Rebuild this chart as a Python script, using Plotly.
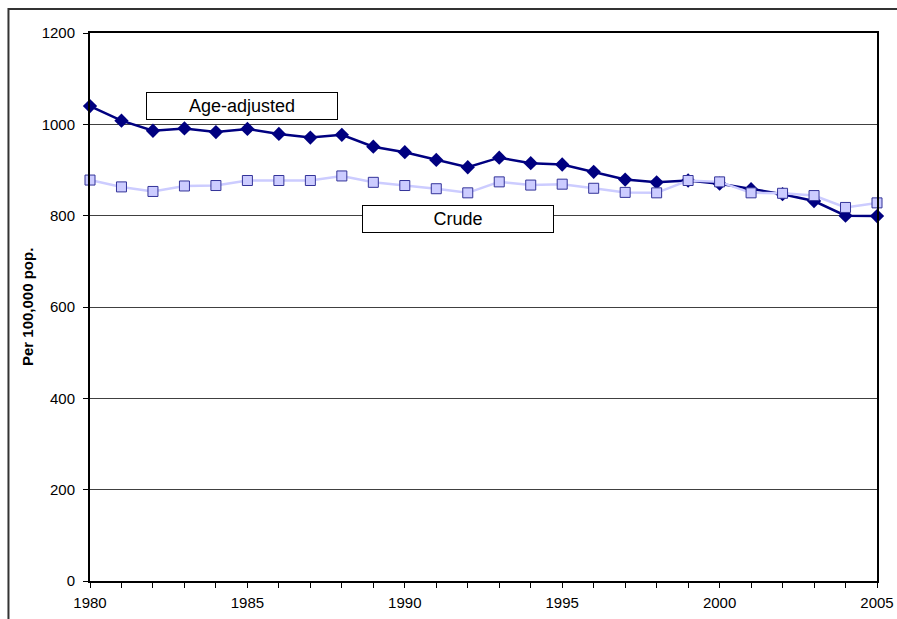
import plotly.graph_objects as go

years = list(range(1980, 2006))
age_adjusted = [1040, 1008, 986, 991, 983, 990, 979, 971, 977, 951, 939, 922, 906,
                927, 915, 912, 896, 879, 873, 877, 870, 858, 847, 832, 800, 799]
crude = [878, 863, 853, 865, 866, 877, 877, 877, 887, 873, 866, 859, 850,
         874, 867, 869, 860, 851, 850, 877, 874, 850, 849, 844, 818, 828]
x_ticks = [1980, 1985, 1990, 1995, 2000, 2005]
y_ticks = [0, 200, 400, 600, 800, 1000, 1200]

font_name = "Liberation Sans, Arial, sans-serif"

fig = go.Figure()
fig.add_trace(go.Scatter(x=years, y=age_adjusted, mode='lines+markers', name='Age-adjusted',
                         line=dict(color='#000080', width=2.5),
                         marker=dict(symbol='diamond', size=11, color='#000080'),
                         cliponaxis=False))
fig.add_trace(go.Scatter(x=years, y=crude, mode='lines+markers', name='Crude',
                         line=dict(color='#CCCCFF', width=2.5),
                         marker=dict(symbol='square', size=10, color='#CCCCFF',
                                     line=dict(color='#333399', width=1)),
                         cliponaxis=False))

# outer chart frame (runs past the bottom/right of the picture)
fig.add_shape(type='rect', xref='paper', yref='paper', x0=-0.1036, x1=1.2, y0=-0.3, y1=1.0438,
              line=dict(color='#333333', width=2), layer='below')

# series labels
for txt, px, py in [('Age-adjusted', 0.1931, 0.867), ('Crude', 0.4679, 0.6597)]:
    fig.add_annotation(text=txt, xref='paper', yref='paper', x=px, y=py, showarrow=False,
                       xanchor='center', yanchor='middle', width=190, height=26,
                       bgcolor='white', bordercolor='black', borderwidth=1, borderpad=0,
                       font=dict(family=font_name, size=18, color='black'))

fig.add_annotation(text='<b>Per 100,000 pop.</b>', xref='paper', yref='paper', x=-0.080, y=0.5,
                   textangle=-90, showarrow=False, xanchor='center', yanchor='middle',
                   font=dict(family=font_name, size=15, color='black'))

fig.update_layout(
    width=897, height=619,
    margin=dict(l=90, r=20, t=33, b=38, autoexpand=False),
    paper_bgcolor='white', plot_bgcolor='white',
    showlegend=False,
    font=dict(family=font_name, size=15, color='black'),
    xaxis=dict(range=[1980, 2005], tickvals=x_ticks, showgrid=False, zeroline=False,
               showline=True, linecolor='black', linewidth=1.5, mirror=True, automargin=False,
               ticks='outside', ticklen=5, tickcolor='black',
               minor=dict(dtick=1, tick0=1980, ticks='outside', ticklen=5, tickcolor='black'),
               ticklabelstandoff=2),
    yaxis=dict(range=[0, 1200], tickvals=y_ticks, showgrid=True, gridcolor='#404040', gridwidth=1,
               zeroline=False, showline=True, linecolor='black', linewidth=2, mirror=True,
               automargin=False, ticks='outside', ticklen=5, tickcolor='black', ticklabelstandoff=5),
)

fig.write_html("out.html", config={'displayModeBar': False},
               post_script="document.body.style.margin='0';")
